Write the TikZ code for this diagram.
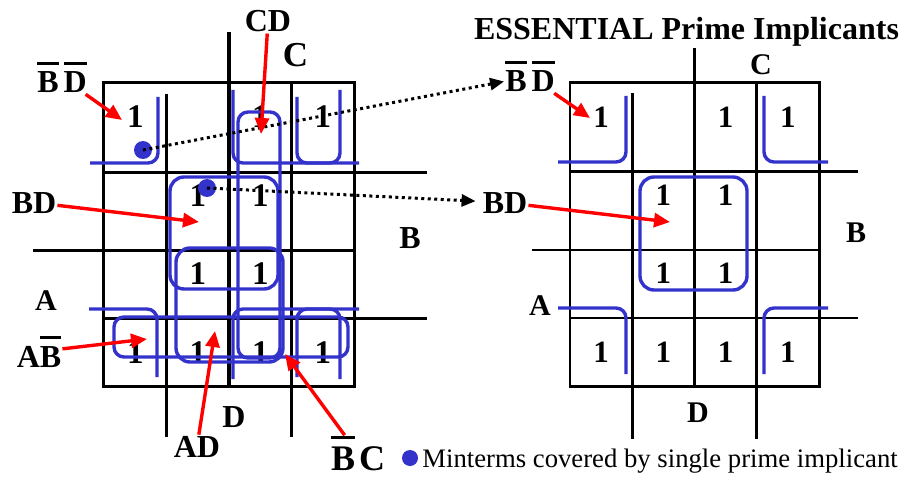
\documentclass[tikz,border=0pt]{standalone}
\usepackage{fontspec}
\setmainfont{Liberation Serif}
\usetikzlibrary{matrix,positioning,arrows.meta}
\definecolor{kblue}{HTML}{3333CC}
\definecolor{kred}{HTML}{FF0000}
\newcommand{\ovl}[1]{\setbox0=\hbox{#1}\rlap{\raisebox{\dimexpr\ht0+7pt\relax}{\rule{\wd0}{3pt}}}\box0}
\newcommand{\fs}[1]{\fontsize{#1}{#1}\selectfont}

\begin{document}
\begin{tikzpicture}[x=1pt, y=-1pt,
  cell/.style={minimum width=62.5pt, minimum height=67.75pt, inner sep=0pt,
    outer sep=0pt, font=\bfseries\fs{33}},
  rcell/.style={cell, minimum width=62.25pt, minimum height=68.25pt,
    font=\bfseries\fs{31}},
  lbl/.style={font=\bfseries\fs{32}, inner sep=1pt, anchor=base},
  rlbl/.style={lbl, font=\bfseries\fs{30}},
  gridl/.style={line width=3.2pt},
  gridr/.style={line width=2.6pt},
  grp/.style={draw=kblue, line width=3.4pt, rounded corners=10pt},
  redarrow/.style={draw=kred, line width=3.4pt,
    -{Triangle[length=16pt,width=14pt]}},
  dotarrow/.style={line width=3pt, dash pattern=on 3pt off 3.5pt,
    -{Triangle[length=14pt,width=12pt]}},
  mdot/.style={circle, fill=kblue, minimum size=18pt, inner sep=0pt}]

  \useasboundingbox (0,0) rectangle (904,481);

  % left map
  \matrix (L) [matrix of nodes, nodes={cell}, nodes in empty cells,
    row sep=0pt, column sep=0pt, inner sep=0pt] at (229,234.5) {
    1 &   & 1 & 1 \\
      & 1 & 1 &   \\
      & 1 & 1 &   \\
    1 & 1 & 1 & 1 \\
  };

  \draw[gridl] (L.north west) rectangle (L.south east);
  \foreach \c/\up/\dn in {2/0/51, 3/51/0, 4/0/51}
    \draw[gridl] ([yshift=\up pt]L-1-\c.north west) -- ([yshift=-\dn pt]L-4-\c.south west);
  \foreach \r/\lf/\rt in {2/0/73, 3/71/0, 4/0/73}
    \draw[gridl] ([xshift=-\lf pt]L-\r-1.north west) -- ([xshift=\rt pt]L-\r-4.north east);

  % right map
  \matrix (R) [matrix of nodes, nodes={rcell}, nodes in empty cells,
    row sep=0pt, column sep=0pt, inner sep=0pt] at (694.5,234.5) {
    1 &   & 1 & 1 \\
      & 1 & 1 &   \\
      & 1 & 1 &   \\
    1 & 1 & 1 & 1 \\
  };

  \draw[gridr] (R.north west) rectangle (R.south east);
  \foreach \c/\up/\dn in {2/0/53, 3/35/0, 4/0/53}
    \draw[gridr] ([yshift=\up pt]R-1-\c.north west) -- ([yshift=-\dn pt]R-4-\c.south west);
  \foreach \r/\lf/\rt in {2/0/39, 3/38/0, 4/0/39}
    \draw[gridr] ([xshift=-\lf pt]R-\r-1.north west) -- ([xshift=\rt pt]R-\r-4.north east);

  % groups, left
  \draw[grp] (90,163) -- (158,163) -- (158,97);
  \draw[grp] (359,163) -- (297,163) -- (297,97);
  \draw[grp] (89,309) -- (157,309) -- (157,377);
  \draw[grp] (359,309) -- (297,309) -- (297,377);
  \draw[grp] (233,90) -- (233,163) -- (340,163) -- (340,90);
  \draw[grp] (233,379) -- (233,309) -- (340,309) -- (340,379);
  \draw[grp] (238,112) rectangle (280,358);
  \draw[grp, rounded corners=14pt] (170,177) rectangle (278,289);
  \draw[grp, rounded corners=14pt] (176,248) rectangle (283,362);
  \draw[grp] (114,317) rectangle (348,357);

  % groups, right
  \draw[grp] (558,162) -- (626,162) -- (626,96);
  \draw[grp] (828,162) -- (764,162) -- (764,96);
  \draw[grp] (558,308) -- (626,308) -- (626,374);
  \draw[grp] (828,308) -- (764,308) -- (764,374);
  \draw[grp, rounded corners=14pt] (640,177) rectangle (747,290);

  % labels
  \node[lbl] (lBDbar) at (62,93) {\ovl{B}\hspace{5pt}\ovl{D}};
  \node[lbl] (lCD) at (268,32) {CD};
  \node[lbl, font=\bfseries\fs{35}] (lC) at (295.5,67) {C};
  \node[lbl] (lBD) at (34,213) {BD};
  \node[lbl] (lB) at (410,248) {B};
  \node[lbl, font=\bfseries\fs{30}] (lA) at (46,310) {A};
  \node[lbl] (lABbar) at (39,367) {A\ovl{B}};
  \node[lbl] (lD) at (234,427) {D};
  \node[lbl] (lAD) at (197,457) {AD};
  \node[lbl, font=\bfseries\fs{36}] (lBbarC) at (358,470) {\ovl{B}\hspace{4pt}C};

  \node[lbl] (title) at (686.5,40) {ESSENTIAL Prime Implicants};
  \node[lbl] (rBDbar) at (530,92) {\ovl{B}\hspace{5pt}\ovl{D}};
  \node[rlbl] (rC) at (761,75) {C};
  \node[lbl] (rBD) at (505,213) {BD};
  \node[rlbl] (rB) at (856,242) {B};
  \node[rlbl] (rA) at (540,315) {A};
  \node[rlbl] (rD) at (698,422) {D};

  % minterm dots and links to the essential map
  \node[mdot] (mA) at (143,150) {};
  \node[mdot] (mB) at (207,188) {};
  \draw[dotarrow] (mA.center) -- (rBDbar);
  \draw[dotarrow, shorten >=6pt] (mB.center) -- (rBD);

  % red pointers
  \coordinate (tBDbar) at (122,120);
  \coordinate (tCD) at (261,134);
  \coordinate (tBD) at (199,222);
  \coordinate (tABbar) at (147,339);
  \coordinate (tAD) at (215,331);
  \coordinate (tBbarC) at (285,354);
  \coordinate (trBDbar) at (590,118);
  \coordinate (trBD) at (670,222);
  \foreach \a/\b in {lBDbar/tBDbar, lCD/tCD, lBD/tBD, lABbar/tABbar,
    lAD/tAD, lBbarC/tBbarC, rBDbar/trBDbar, rBD/trBD}
    \draw[redarrow] (\a) -- (\b);

  % legend
  \node[mdot, minimum size=16pt] (legdot) at (410,458) {};
  \node[anchor=base west, inner sep=0pt, font=\fs{26.7}] (legtext)
    at ([xshift=4pt,yshift=-9pt]legdot.east) {Minterms covered by single prime implicant};

\end{tikzpicture}
\end{document}
